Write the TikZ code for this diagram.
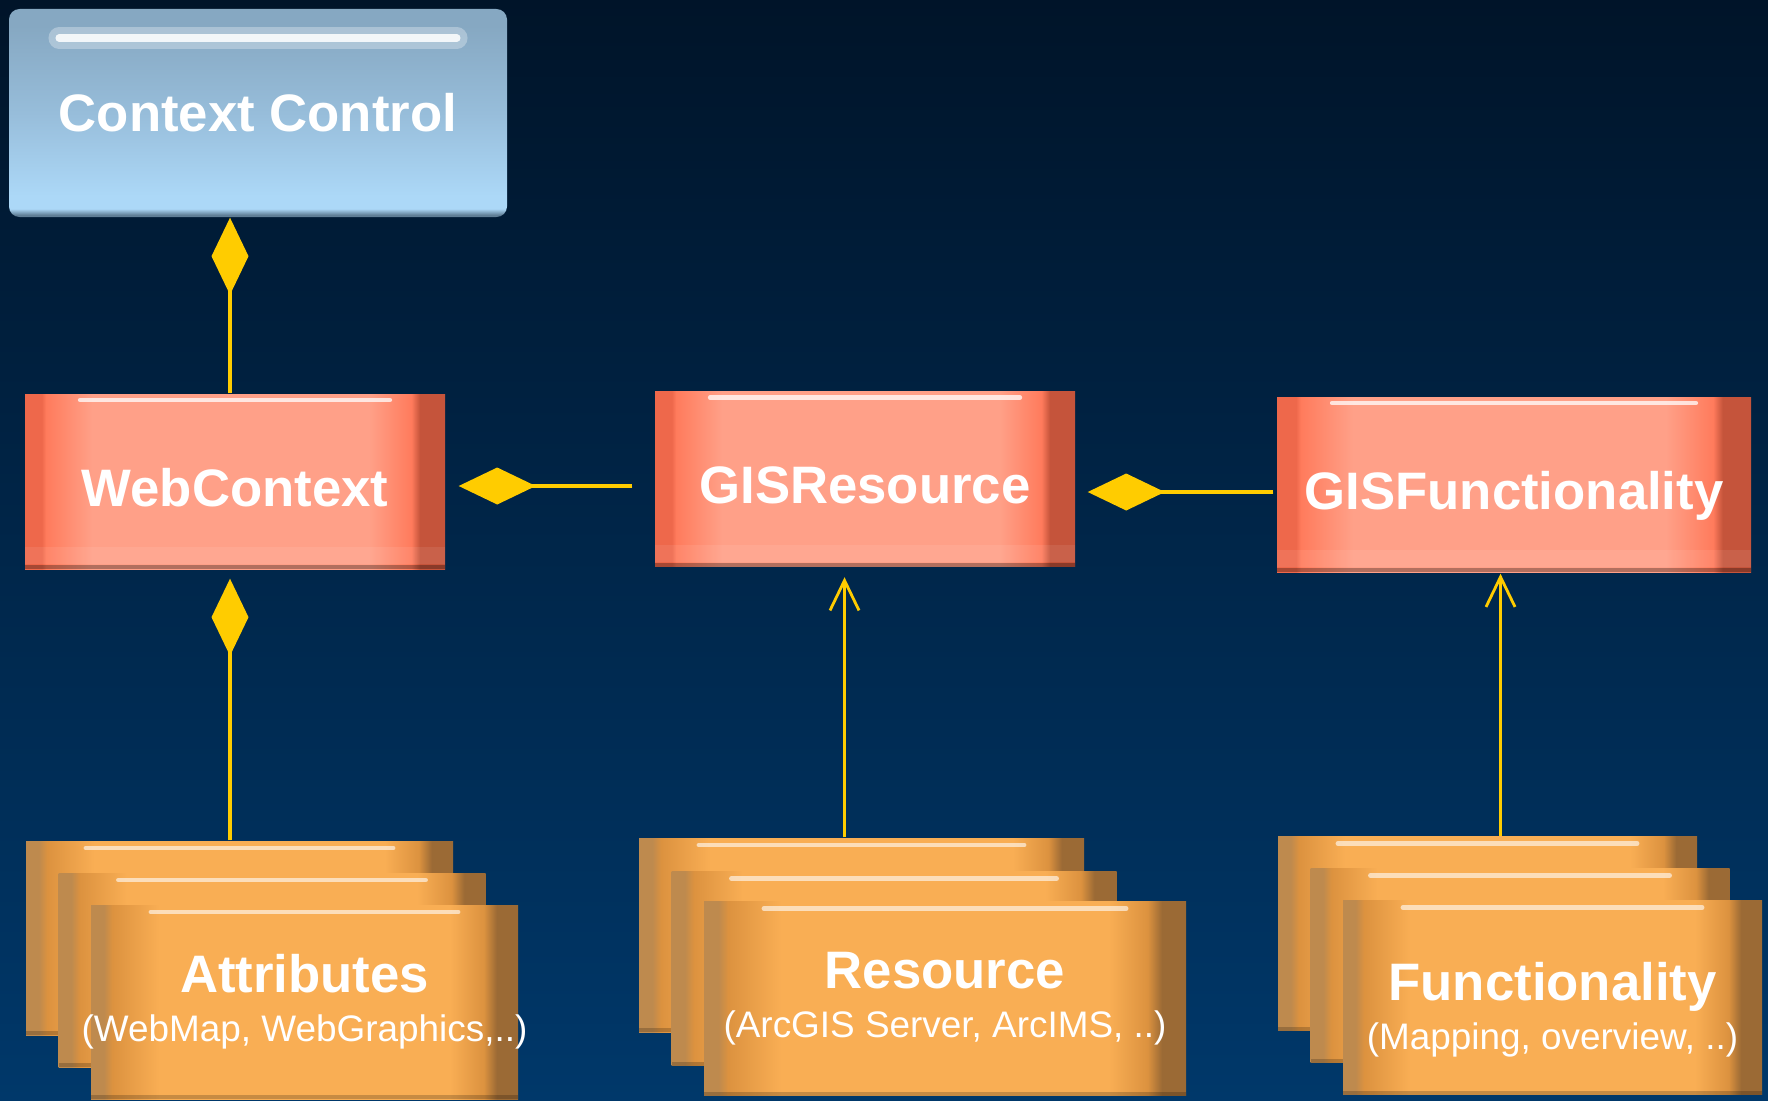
\documentclass[tikz,border=0pt]{standalone}
\usepackage{fontspec}
\setmainfont{Liberation Sans}
\usepackage{xcolor}
\usepackage{tikz}
\usetikzlibrary{arrows.meta, positioning}

\definecolor{bgtop}{HTML}{001429}
\definecolor{bgbottom}{HTML}{00386A}
\definecolor{linkyellow}{HTML}{FFCC00}
% class boxes
\definecolor{redside}{HTML}{EE684B}
\definecolor{redlight}{HTML}{FF7B5C}
\definecolor{redmid}{HTML}{FFA088}
\definecolor{reddark}{HTML}{C5543B}
% stacked boxes
\definecolor{orangeside}{HTML}{BE8A4E}
\definecolor{orangelight}{HTML}{DC923F}
\definecolor{orangemid}{HTML}{F9AE54}
\definecolor{orangedark}{HTML}{9B6A35}
% control box
\definecolor{ctxrim}{HTML}{5F7E96}
\definecolor{ctxlow}{HTML}{ACD8F7}
\definecolor{ctxmid}{HTML}{97BDDA}
\definecolor{ctxhigh}{HTML}{86A8C2}

\pgfdeclarehorizontalshading{redglass}{100bp}{color(0bp)=(redside); color(27bp)=(redside);
  color(27.5bp)=(redlight); color(33bp)=(redmid); color(66bp)=(redmid); color(71bp)=(redlight);
  color(72bp)=(reddark); color(100bp)=(reddark)}
\pgfdeclarehorizontalshading{orangeglass}{100bp}{color(0bp)=(orangeside); color(26.5bp)=(orangeside);
  color(27.5bp)=(orangelight); color(33bp)=(orangemid); color(67bp)=(orangemid); color(71bp)=(orangelight);
  color(72.5bp)=(orangedark); color(100bp)=(orangedark)}
\pgfdeclareverticalshading{ctxglass}{100bp}{color(0bp)=(ctxrim); color(25.5bp)=(ctxrim);
  color(27bp)=(ctxlow); color(30bp)=(ctxlow); color(50bp)=(ctxmid); color(71bp)=(ctxhigh); color(100bp)=(ctxhigh)}

\newcommand{\glassglare}[4]{%
  \draw[white, opacity=#4, line width=#3, line cap=round]
    ([xshift=#1, yshift=-#2]path picture bounding box.north west) --
    ([xshift=-#1, yshift=-#2]path picture bounding box.north east);}
\newcommand{\subline}[1]{\\\makebox[0pt][c]{#1}}

\begin{document}
\begin{tikzpicture}[
    ctxbox/.style={rectangle, rounded corners=3pt, shading=ctxglass, minimum width=4.98cm,
      minimum height=2.08cm, text=white, font=\fontsize{15}{18}\selectfont\bfseries,
      path picture={\glassglare{5mm}{2.9mm}{6pt}{.3}
        \glassglare{5mm}{2.9mm}{2pt}{.85}}},
    classbox/.style={rectangle, shading=redglass, minimum height=1.75cm, text=white,
      text height=0.49cm, text depth=0cm, font=\fontsize{15}{18}\selectfont\bfseries,
      path picture={\glassglare{5.5mm}{0.6mm}{1.2pt}{.75}
        \fill[white, opacity=.08] ([yshift=0.05cm]path picture bounding box.south west)
          rectangle ([yshift=0.22cm]path picture bounding box.south east);
        \fill[black, opacity=.3] (path picture bounding box.south west)
          rectangle ([yshift=0.04cm]path picture bounding box.south east);}},
    stackbox/.style={rectangle, shading=orangeglass, minimum width=4.28cm, minimum height=1.94cm,
      text=white, align=center, font=\fontsize{10.5}{14}\selectfont,
      path picture={\glassglare{6mm}{0.7mm}{1.4pt}{.6}
        \fill[black, opacity=.2] (path picture bounding box.south west)
          rectangle ([yshift=0.04cm]path picture bounding box.south east);}},
    owns/.style={draw=linkyellow, fill=linkyellow, line width=1pt, -{Diamond[length=0.77cm, width=0.37cm]}},
    uses/.style={draw=linkyellow, line width=0.8pt, -{Straight Barb[length=0.3cm, width=0.29cm]}}
  ]
  % Background
  \shade[top color=bgtop, bottom color=bgbottom] (0,0) rectangle (17.68,-11);

  % Nodes: control and classes
  \node[ctxbox] (ctxctl) at (2.58,-1.13) {Context Control};
  \node[classbox, minimum width=4.20cm] (webctx) at (2.35,-4.815) {WebContext};
  \node[classbox, minimum width=4.20cm] (gisres) at (8.65,-4.79) {GISResource};
  \node[classbox, minimum width=4.74cm] (gisfunc) at (15.14,-4.845) {GISFunctionality};

  % Nodes: stacks
  \node[stackbox, minimum width=4.27cm] (attrA) at (2.395,-9.38) {};
  \node[stackbox, minimum width=4.27cm] (attrB) at ([shift={(0.325,-0.32)}]attrA) {};
  \node[stackbox, minimum width=4.27cm] (attrC) at ([shift={(0.325,-0.32)}]attrB)
    {{\fontsize{15}{18}\selectfont\bfseries Attributes}\subline{(WebMap, WebGraphics,..)}};

  \node[stackbox, minimum width=4.45cm] (resA) at (8.615,-9.35) {};
  \node[stackbox, minimum width=4.45cm] (resB) at ([shift={(0.325,-0.335)}]resA) {};
  \node[stackbox, minimum width=4.82cm] (resC) at (9.45,-9.985)
    {{\fontsize{15}{18}\selectfont\bfseries Resource}\subline{(ArcGIS Server, ArcIMS, ..)}};

  \node[stackbox, minimum width=4.19cm] (funcA) at (14.875,-9.335) {};
  \node[stackbox, minimum width=4.19cm] (funcB) at ([shift={(0.325,-0.32)}]funcA) {};
  \node[stackbox, minimum width=4.19cm, text height=1.12cm] (funcC) at ([shift={(0.325,-0.32)}]funcB)
    {{\fontsize{15}{18}\selectfont\bfseries Functionality}\subline{(Mapping, overview, ..)}};

  % Paths: composition
  \draw[owns] ([xshift=-0.5mm]webctx.north) -- ([xshift=-0.5mm]webctx.north |- ctxctl.south);
  \draw[owns, shorten >=0.9mm] ([xshift=-0.5mm]webctx.south |- attrA.north) -- ([xshift=-0.5mm]webctx.south);
  \draw[owns, shorten <=2.2mm, shorten >=1.3mm] ([yshift=-0.7mm]gisres.west) -- ([yshift=-0.7mm]gisres.west -| webctx.east);
  \draw[owns, shorten <=0.3mm, shorten >=1.2mm] ([yshift=-0.75mm]gisfunc.west) -- ([yshift=-0.75mm]gisfunc.west -| gisres.east);

  % Paths: realisation
  \draw[uses, shorten >=1mm] ([xshift=-1.7mm]resA.north) -- ([xshift=-1.7mm]resA.north |- gisres.south);
  \draw[uses, shorten >=0.1mm] ([xshift=1.3mm]funcA.north) -- ([xshift=1.3mm]funcA.north |- gisfunc.south);
\end{tikzpicture}
\end{document}
